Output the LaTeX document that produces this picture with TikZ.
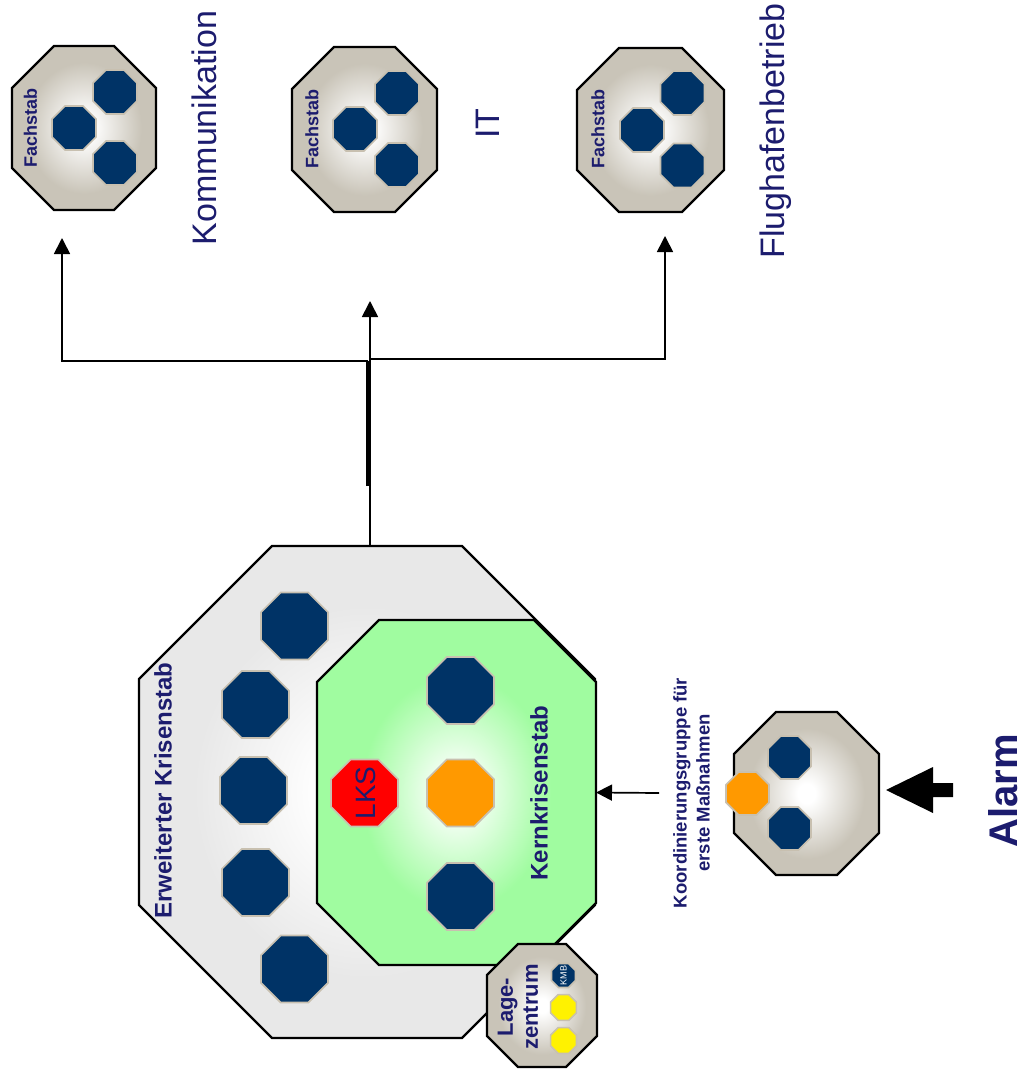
\documentclass[tikz,border=0pt]{standalone}
\usepackage{fontspec}
\setmainfont{Liberation Sans}
\usetikzlibrary{arrows.meta,shapes.geometric}

\definecolor{navy}{RGB}{0,51,102}
\definecolor{inktext}{RGB}{28,28,110}
\definecolor{beige}{RGB}{201,196,184}
\definecolor{mint}{RGB}{160,252,160}
\definecolor{paleg}{RGB}{232,232,232}
\definecolor{rimline}{RGB}{200,192,176}
\definecolor{amber}{RGB}{255,153,0}

% soft glows: white centre fading to the box colour
\pgfdeclareradialshading{beigeglow}{\pgfpoint{0bp}{0bp}}{color(0bp)=(white); color(3bp)=(white); color(20bp)=(beige); color(50bp)=(beige)}
\pgfdeclareradialshading{mintglow}{\pgfpoint{0bp}{0bp}}{color(0bp)=(white); color(2bp)=(white); color(17bp)=(mint); color(50bp)=(mint)}
\pgfdeclareradialshading{greyglow}{\pgfpoint{0bp}{0bp}}{color(0bp)=(white); color(5bp)=(white); color(19bp)=(paleg); color(50bp)=(paleg)}

% octagon with chamfered corners: name, centre, width, height, chamfer, path style
\newcommand\chamferbox[6]{%
  \node[minimum width=#3pt, minimum height=#4pt, inner sep=0pt, outer sep=0pt] (#1) at #2 {};
  \path[#6] ([xshift=#5pt]#1.north west) -- ([xshift=-#5pt]#1.north east)
    -- ([yshift=-#5pt]#1.north east) -- ([yshift=#5pt]#1.south east)
    -- ([xshift=-#5pt]#1.south east) -- ([xshift=#5pt]#1.south west)
    -- ([yshift=#5pt]#1.south west) -- ([yshift=-#5pt]#1.north west) -- cycle;
}

\tikzset{
  unitbox/.style={draw=black, line width=2.3pt, line join=miter},
  fachbox/.style={unitbox, shade, shading=beigeglow},
  seat/.style={regular polygon, regular polygon sides=8, minimum size=#1,
    inner sep=0pt, fill=navy, draw=rimline, line width=1.6pt},
  lbl/.style={rotate=90, text=inktext, inner sep=0pt},
  boldlbl/.style={lbl, font=\bfseries\fontsize{#1}{#1}\selectfont},
  biglbl/.style={lbl, font=\fontsize{34}{40}\selectfont},
  conn/.style={draw=black, line width=1.7pt, -{Triangle[length=16pt,width=16pt]}},
}

\begin{document}
\begin{tikzpicture}[x=1pt, y=-1pt]
\useasboundingbox (0,0) rectangle (1025,1078);

% ---- Fachstaebe ----
\chamferbox{fs1}{(84,128)}{144}{164}{42}{fachbox}
\node[seat=47.6pt] (fs1a) at (74,128) {};
\node[seat=47.6pt] (fs1b) at (115,92) {};
\node[seat=47.6pt] (fs1c) at (115,163) {};
\node[boldlbl=18] (fs1t) at (30.5,128) {Fachstab};

\chamferbox{fs2}{(364.5,129.5)}{145}{165}{42}{fachbox}
\node[seat=47.6pt] (fs2a) at (355,129) {};
\node[seat=47.6pt] (fs2b) at (397,93) {};
\node[seat=47.6pt] (fs2c) at (397,165) {};
\node[boldlbl=18] (fs2t) at (312,129) {Fachstab};

\chamferbox{fs3}{(650.5,130)}{147}{164}{42}{fachbox}
\node[seat=47.6pt] (fs3a) at (642,130) {};
\node[seat=47.6pt] (fs3b) at (682.5,93) {};
\node[seat=47.6pt] (fs3c) at (682.5,165.5) {};
\node[boldlbl=18] (fs3t) at (598,129) {Fachstab};

\node[biglbl] (komm) at (204,128) {Kommunikation};
\node[biglbl] (itl) at (488,123.5) {IT};
\node[biglbl] (flug) at (776,131) {Flughafenbetrieb};

% ---- Erweiterter Krisenstab ----
\chamferbox{erw}{(367,792)}{456}{492}{133}{unitbox, shade, shading=greyglow}
\node[seat=72.5pt] (e1) at (294.5,626) {};
\node[seat=72.5pt] (e2) at (255.5,704.5) {};
\node[seat=72.5pt] (e3) at (253.5,790.5) {};
\node[seat=72.5pt] (e4) at (255.5,882.5) {};
\node[seat=72.5pt] (e5) at (294.5,969) {};
\node[boldlbl=24] (erwt) at (163,790.5) {Erweiterter Krisenstab};

% ---- Kernkrisenstab ----
\chamferbox{kern}{(456.5,792.5)}{279}{345}{62}{unitbox, shade, shading=mintglow}
\node[seat=72.5pt] (k1) at (460.5,690.5) {};
\node[seat=72.5pt, fill=amber] (k2) at (460.5,793) {};
\node[seat=72.5pt] (k3) at (460.5,896.5) {};
\node[seat=72.5pt, fill=red] (lks) at (364.5,793) {};
\node[lbl, font=\fontsize{28}{30}\selectfont] (lkst) at (366,793) {LKS};
\node[boldlbl=24] (kernt) at (539,793) {Kernkrisenstab};

% ---- Lagezentrum ----
\chamferbox{lage}{(542,1005.5)}{110}{123}{31}{fachbox}
\node[seat=26pt] (kmb) at (563.5,975.5) {};
\node[rotate=90, text=white, font=\fontsize{9}{9}\selectfont, inner sep=0pt] (kmbt) at (563.5,975.5) {KMB};
\node[seat=28pt, fill=yellow] (y1) at (563.5,1007.5) {};
\node[seat=28pt, fill=yellow] (y2) at (563.5,1040.5) {};
\node[lbl, align=center, font=\bfseries\fontsize{22}{25}\selectfont] (lagt) at (518,1007) {Lage-\\zentrum};

% ---- Koordinierungsgruppe ----
\chamferbox{kg}{(806.5,793.5)}{145}{163}{42}{fachbox}
\node[seat=46.5pt] (kg1) at (789.5,757.5) {};
\node[seat=46.5pt] (kg2) at (789.5,828.5) {};
\node[seat=46.5pt, fill=amber] (kg3) at (747.5,793.5) {};
\node[lbl, align=center, font=\bfseries\fontsize{18.5}{23}\selectfont] (kgt) at (691.5,793) {Koordinierungsgruppe für\\erste Maßnahmen};

\node[boldlbl=40] (alarm) at (1003,791) {Alarm};

% ---- connectors ----
\coordinate (itin) at (370,301);
\coordinate (splitlow) at (367.5,486);
\coordinate (leftin) at (62,238);
\coordinate (rightin) at (665,236);
\coordinate (kgstart) at (659,793);
\coordinate (alarmtip) at (886,790);

\draw[conn] ([xshift=3pt]erw.north) -- (itin);
\draw[line width=3pt] (splitlow) -- (367.5,361);
\draw[conn] (367.5,361) -- (leftin |- 0,361) -- (leftin);
\draw[conn] (370,359) -- (rightin |- 0,359) -- (rightin);
\draw[conn] (kgstart) -- (kern.east);

% block arrow from the alarm
\fill[black] (alarmtip) -- ++(47,-23) -- ++(0,16) -- ++(20,0) -- ++(0,14)
  -- ++(-20,0) -- ++(0,16) -- cycle;
\end{tikzpicture}
\end{document}
